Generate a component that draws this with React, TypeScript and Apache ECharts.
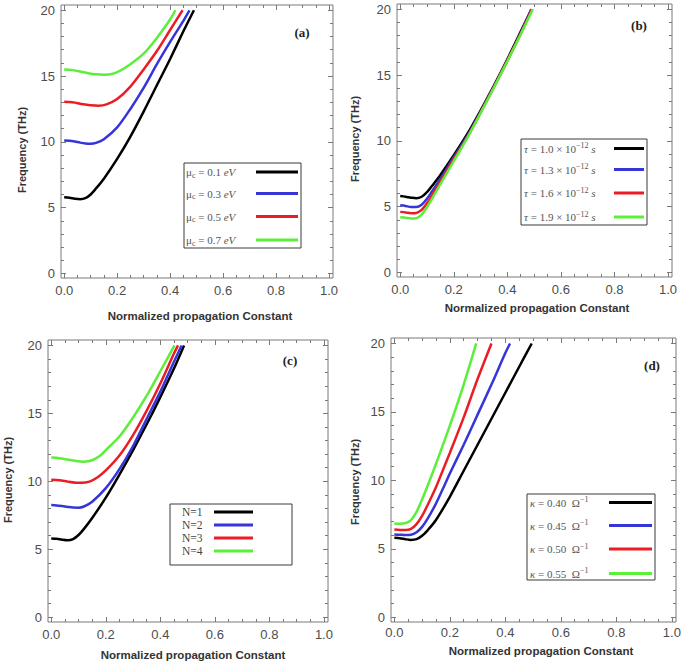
import React, { useEffect, useRef } from "react";
import * as echarts from "echarts";

// ---- axes ----
const X_MIN = -0.012;
const X_MAX = 1.015;
const Y_MIN = -0.35;
const Y_MAX = 20.4;
const X_MAJOR = [0, 0.2, 0.4, 0.6, 0.8, 1.0];
const X_MINOR = [0.05, 0.1, 0.15, 0.25, 0.3, 0.35, 0.45, 0.5, 0.55, 0.65, 0.7, 0.75, 0.85, 0.9, 0.95];
const Y_MAJOR = [0, 5, 10, 15, 20];
const Y_MINOR = [1, 2, 3, 4, 6, 7, 8, 9, 11, 12, 13, 14, 16, 17, 18, 19];

const X_TITLE = "Normalized propagation Constant";
const Y_TITLE = "Frequency (THz)";

const COLORS = ["#000000", "#3535d8", "#ec1c24", "#5bef3a"];

// ---- panel (a): chemical potential ----
const A_LABELS = ["0.1", "0.3", "0.5", "0.7"];
const A_MU01 = [[0, 5.78], [0.02, 5.75], [0.04, 5.68], [0.06, 5.64], [0.08, 5.72], [0.1, 6.0], [0.12, 6.45], [0.15, 7.2], [0.2, 8.7], [0.25, 10.4], [0.3, 12.3], [0.35, 14.3], [0.4, 16.3], [0.45, 18.4], [0.49, 20.0]];
const A_MU03 = [[0, 10.1], [0.02, 10.08], [0.04, 10.02], [0.06, 9.94], [0.08, 9.88], [0.1, 9.86], [0.12, 9.92], [0.15, 10.2], [0.2, 11.1], [0.25, 12.5], [0.3, 14.1], [0.35, 15.9], [0.4, 17.6], [0.45, 19.2], [0.473, 20.0]];
const A_MU05 = [[0, 13.05], [0.02, 13.03], [0.04, 12.98], [0.06, 12.9], [0.08, 12.83], [0.1, 12.78], [0.13, 12.75], [0.16, 12.85], [0.2, 13.25], [0.25, 14.2], [0.3, 15.5], [0.35, 16.9], [0.4, 18.5], [0.447, 20.0]];
const A_MU07 = [[0, 15.5], [0.03, 15.45], [0.06, 15.35], [0.09, 15.22], [0.12, 15.13], [0.15, 15.1], [0.18, 15.15], [0.21, 15.4], [0.25, 15.9], [0.3, 16.7], [0.35, 17.9], [0.4, 19.3], [0.42, 20.0]];

// ---- panel (b): relaxation time ----
const B_LABELS = ["1.0", "1.3", "1.6", "1.9"];
const B_TAU10 = [[0, 5.8], [0.02, 5.75], [0.04, 5.68], [0.06, 5.63], [0.08, 5.75], [0.1, 6.1], [0.12, 6.6], [0.15, 7.4], [0.2, 8.9], [0.25, 10.5], [0.3, 12.3], [0.35, 14.2], [0.4, 16.2], [0.45, 18.3], [0.49, 20.0]];
const B_TAU13 = [[0, 5.1], [0.02, 5.05], [0.04, 4.97], [0.06, 4.97], [0.08, 5.15], [0.1, 5.6], [0.12, 6.2], [0.15, 7.1], [0.2, 8.75], [0.25, 10.35], [0.3, 12.2], [0.35, 14.1], [0.4, 16.1], [0.45, 18.2], [0.49, 20.0]];
const B_TAU16 = [[0, 4.6], [0.02, 4.56], [0.04, 4.5], [0.06, 4.52], [0.08, 4.75], [0.1, 5.25], [0.12, 5.9], [0.15, 6.9], [0.2, 8.6], [0.25, 10.25], [0.3, 12.15], [0.35, 14.1], [0.4, 16.1], [0.45, 18.15], [0.492, 20.0]];
const B_TAU19 = [[0, 4.2], [0.02, 4.16], [0.04, 4.1], [0.06, 4.12], [0.08, 4.4], [0.1, 4.95], [0.12, 5.65], [0.15, 6.7], [0.2, 8.45], [0.25, 10.2], [0.3, 12.1], [0.35, 14.05], [0.4, 16.05], [0.45, 18.1], [0.495, 20.0]];

// ---- panel (c): number of layers ----
const C_LABELS = ["N=1", "N=2", "N=3", "N=4"];
const C_N1 = [[0, 5.8], [0.02, 5.77], [0.04, 5.7], [0.06, 5.66], [0.08, 5.75], [0.1, 6.05], [0.12, 6.5], [0.15, 7.3], [0.2, 8.8], [0.25, 10.5], [0.3, 12.3], [0.35, 14.2], [0.4, 16.2], [0.45, 18.3], [0.487, 20.0]];
const C_N2 = [[0, 8.25], [0.02, 8.23], [0.04, 8.18], [0.06, 8.12], [0.08, 8.07], [0.1, 8.06], [0.12, 8.15], [0.15, 8.5], [0.2, 9.5], [0.25, 10.9], [0.3, 12.6], [0.35, 14.6], [0.4, 16.6], [0.45, 18.8], [0.478, 20.0]];
const C_N3 = [[0, 10.12], [0.03, 10.08], [0.06, 9.98], [0.09, 9.9], [0.11, 9.89], [0.14, 9.98], [0.17, 10.3], [0.2, 10.8], [0.25, 11.9], [0.3, 13.4], [0.35, 15.2], [0.4, 17.2], [0.45, 19.4], [0.465, 20.0]];
const C_N4 = [[0, 11.75], [0.03, 11.7], [0.06, 11.6], [0.09, 11.5], [0.12, 11.45], [0.15, 11.55], [0.18, 11.9], [0.2, 12.3], [0.25, 13.3], [0.3, 14.7], [0.35, 16.3], [0.4, 18.1], [0.452, 20.0]];

// ---- panel (d): conductivity ----
const D_LABELS = ["0.40", "0.45", "0.50", "0.55"];
const D_K40 = [[0, 5.8], [0.02, 5.77], [0.04, 5.7], [0.06, 5.65], [0.08, 5.7], [0.1, 5.95], [0.12, 6.35], [0.15, 7.1], [0.2, 8.8], [0.25, 10.7], [0.3, 12.6], [0.35, 14.5], [0.4, 16.4], [0.45, 18.3], [0.495, 20.0]];
const D_K45 = [[0, 6.05], [0.02, 6.03], [0.04, 6.0], [0.06, 6.02], [0.08, 6.2], [0.1, 6.6], [0.12, 7.2], [0.15, 8.3], [0.18, 9.6], [0.2, 10.5], [0.25, 12.6], [0.3, 14.8], [0.35, 17.0], [0.4, 19.3], [0.417, 20.0]];
const D_K50 = [[0, 6.4], [0.02, 6.38], [0.04, 6.37], [0.06, 6.45], [0.08, 6.8], [0.1, 7.4], [0.12, 8.2], [0.15, 9.5], [0.18, 11.0], [0.2, 12.0], [0.25, 14.6], [0.3, 17.4], [0.35, 20.0]];
const D_K55 = [[0, 6.85], [0.02, 6.83], [0.04, 6.87], [0.06, 7.1], [0.08, 7.7], [0.1, 8.6], [0.12, 9.6], [0.15, 11.2], [0.2, 14.0], [0.25, 17.0], [0.295, 20.0]];

const FRAME = "#7a7a7a";
const TICK_FONT = "'Liberation Sans', Arial, sans-serif";
const SERIF = "'Liberation Serif', 'DejaVu Serif', serif";

type Panel = {
  grid: { left: number; top: number; width: number; height: number };
  series: number[][][];
  names: string[];
};

const PANELS: Panel[] = [
  { grid: { left: 61, top: 5, width: 272, height: 273 }, series: [A_MU01, A_MU03, A_MU05, A_MU07], names: A_LABELS },
  { grid: { left: 397, top: 4, width: 275, height: 273 }, series: [B_TAU10, B_TAU13, B_TAU16, B_TAU19], names: B_LABELS },
  { grid: { left: 48, top: 340, width: 280, height: 282 }, series: [C_N1, C_N2, C_N3, C_N4], names: C_LABELS },
  { grid: { left: 391, top: 338, width: 285, height: 284 }, series: [D_K40, D_K45, D_K50, D_K55], names: D_LABELS },
];

function tickAxis(kind: "x" | "y", gi: number, position: string, values: number[], len: number, labels: boolean) {
  const isX = kind === "x";
  return {
    type: "value",
    gridIndex: gi,
    position,
    min: isX ? X_MIN : Y_MIN,
    max: isX ? X_MAX : Y_MAX,
    splitLine: { show: false },
    axisLine: { show: false, onZero: false },
    axisTick: { show: true, inside: true, length: len, customValues: values, lineStyle: { color: FRAME, width: 1 } },
    axisLabel: labels
      ? {
          show: true,
          customValues: values,
          formatter: (v: number) => (isX ? v.toFixed(1) : String(Math.round(v))),
          margin: isX ? (gi === 3 ? 4 : 6) : 6,
          fontSize: 13,
          color: "#4d4d4d",
          fontFamily: TICK_FONT,
        }
      : { show: false },
  };
}

function legendItems(
  box: [number, number, number, number],
  textX: number,
  lineX: [number, number],
  ys: number[],
  texts: string[],
  rich: any
) {
  const els: any[] = [
    {
      type: "rect",
      shape: { x: box[0], y: box[1], width: box[2] - box[0], height: box[3] - box[1] },
      style: { fill: "#ffffff", stroke: "#3a3a3a", lineWidth: 1 },
      z: 10,
    },
  ];
  ys.forEach((y, i) => {
    els.push({
      type: "text",
      x: textX,
      y,
      style: { text: texts[i], rich, fill: "#555555", fontFamily: SERIF, fontSize: 11, verticalAlign: "middle", align: "left" },
      z: 11,
    });
    els.push({
      type: "line",
      shape: { x1: lineX[0], y1: y, x2: lineX[1], y2: y },
      style: { stroke: COLORS[i], lineWidth: 3 },
      z: 11,
    });
  });
  return els;
}

export default function App() {
  const ref = useRef<HTMLDivElement>(null);

  useEffect(() => {
    if (!ref.current) return;
    const chart = echarts.init(ref.current, undefined, { renderer: "svg" });

    const grid: any[] = [];
    const xAxis: any[] = [];
    const yAxis: any[] = [];
    const series: any[] = [];

    PANELS.forEach((p, gi) => {
      grid.push({ ...p.grid, show: true, borderColor: FRAME, borderWidth: 1, backgroundColor: "transparent" });
      xAxis.push(tickAxis("x", gi, "bottom", X_MAJOR, 5, true));
      xAxis.push(tickAxis("x", gi, "bottom", X_MINOR, 3, false));
      xAxis.push(tickAxis("x", gi, "top", X_MAJOR, 5, false));
      xAxis.push(tickAxis("x", gi, "top", X_MINOR, 3, false));
      yAxis.push(tickAxis("y", gi, "left", Y_MAJOR, 5, true));
      yAxis.push(tickAxis("y", gi, "left", Y_MINOR, 3, false));
      yAxis.push(tickAxis("y", gi, "right", Y_MAJOR, 5, false));
      yAxis.push(tickAxis("y", gi, "right", Y_MINOR, 3, false));
      p.series.forEach((d, si) => {
        series.push({
          type: "line",
          name: `${gi}-${p.names[si]}`,
          xAxisIndex: gi * 4,
          yAxisIndex: gi * 4,
          data: d,
          showSymbol: false,
          smooth: 0.3,
          silent: true,
          lineStyle: { color: COLORS[si], width: 2.5 },
          z: 3,
        });
      });
    });

    const titleStyle = { fill: "#333333", fontFamily: TICK_FONT, fontWeight: "bold", fontSize: 11.5, align: "center", verticalAlign: "middle" };
    const yTitleStyle = { ...titleStyle, fontSize: 11 };
    const letterStyle = { fill: "#222222", fontFamily: SERIF, fontWeight: "bold", fontSize: 13, align: "center", verticalAlign: "middle" };

    const graphic: any[] = [
      { type: "text", x: 200, y: 316, style: { ...titleStyle, text: X_TITLE } },
      { type: "text", x: 537, y: 308, style: { ...titleStyle, text: X_TITLE } },
      { type: "text", x: 193, y: 655, style: { ...titleStyle, text: X_TITLE } },
      { type: "text", x: 541, y: 651, style: { ...titleStyle, text: X_TITLE } },
      { type: "text", x: 22, y: 150, rotation: Math.PI / 2, style: { ...yTitleStyle, text: Y_TITLE } },
      { type: "text", x: 355, y: 139, rotation: Math.PI / 2, style: { ...yTitleStyle, text: Y_TITLE } },
      { type: "text", x: 8, y: 480, rotation: Math.PI / 2, style: { ...yTitleStyle, text: Y_TITLE } },
      { type: "text", x: 355, y: 482, rotation: Math.PI / 2, style: { ...yTitleStyle, text: Y_TITLE } },
      { type: "text", x: 302, y: 32, style: { ...letterStyle, text: "(a)" } },
      { type: "text", x: 639, y: 25, style: { ...letterStyle, text: "(b)" } },
      { type: "text", x: 290, y: 360, style: { ...letterStyle, text: "(c)" } },
      { type: "text", x: 652, y: 365, style: { ...letterStyle, text: "(d)" } },
    ];

    const richBase = {
      g: { fontFamily: SERIF, fontSize: 11, fill: "#555555", lineHeight: 14 },
      i: { fontFamily: SERIF, fontSize: 11, fontStyle: "italic", fill: "#555555", lineHeight: 14 },
      sub: { fontFamily: SERIF, fontSize: 8, fill: "#555555", verticalAlign: "bottom", lineHeight: 14 },
      sup: { fontFamily: SERIF, fontSize: 8, fill: "#555555", verticalAlign: "top", lineHeight: 14 },
      n: { fontFamily: SERIF, fontSize: 11.5, fill: "#444444", lineHeight: 11 },
    };

    graphic.push(
      ...legendItems(
        [184, 163, 301, 248],
        186,
        [256, 298],
        [172, 193.5, 216.5, 240],
        A_LABELS.map((v) => `{g|μ}{sub|c}{g| = ${v} }{i|eV}`),
        richBase
      )
    );
    graphic.push(
      ...legendItems(
        [521, 139, 647, 225],
        524,
        [614, 644],
        [148.5, 169.5, 193, 217],
        B_LABELS.map((v) => `{i|τ}{g| = ${v} × 10}{sup|−12}{g| }{i|s}`),
        richBase
      )
    );
    graphic.push(
      ...legendItems(
        [170, 504, 292, 565],
        182,
        [214, 253],
        [512, 525, 538, 551],
        C_LABELS.map((v) => `{n|${v}}`),
        richBase
      )
    );
    graphic.push(
      ...legendItems(
        [527, 494, 655, 580],
        530,
        [609, 652],
        [502.5, 525.5, 549, 573.5],
        D_LABELS.map((v) => `{i|κ}{g| = ${v}  Ω}{sup|−1}`),
        richBase
      )
    );

    chart.setOption({
      animation: false,
      backgroundColor: "#ffffff",
      grid,
      xAxis,
      yAxis,
      series,
      graphic,
    });

    return () => chart.dispose();
  }, []);

  return <div ref={ref} style={{ position: "fixed", left: 0, top: 0, width: 685, height: 666 }} />;
}
